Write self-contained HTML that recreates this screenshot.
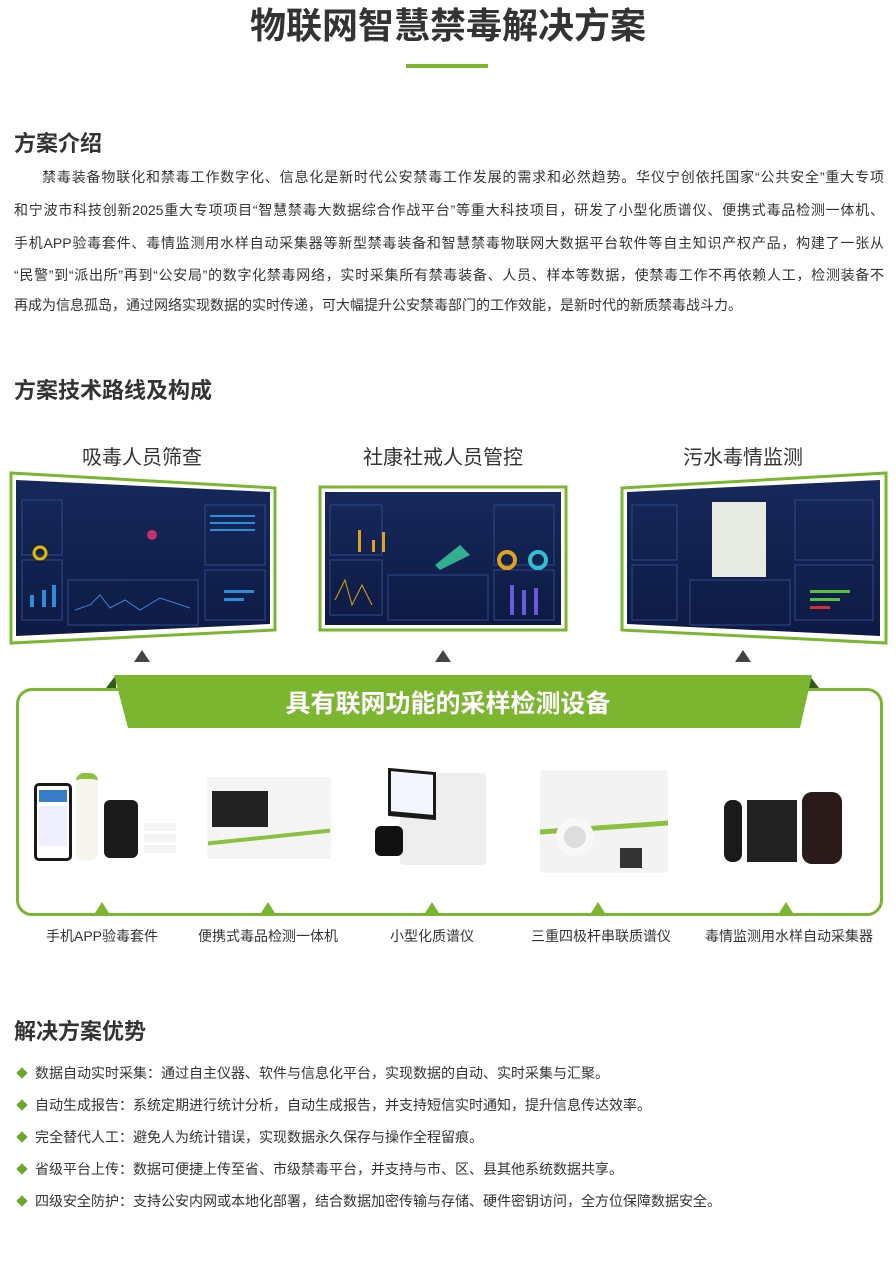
<!DOCTYPE html>
<html><head><meta charset="utf-8">
<style>
*{margin:0;padding:0;box-sizing:border-box}
body{width:896px;height:1275px;background:#fff;position:relative;overflow:hidden;font-family:"Liberation Sans","Noto Sans CJK SC",sans-serif;color:#333}
.a{position:absolute;white-space:nowrap}
.h{font-size:22px;font-weight:bold;color:#333;left:14px}
.p{position:absolute;left:14px;width:870px;font-size:14px;color:#333;text-align:justify;text-align-last:justify;white-space:nowrap;height:20px;line-height:20px}
.lab{font-size:20px;color:#333;transform:translateX(-50%)}
.pl{font-size:14px;color:#333;transform:translateX(-50%);top:926px}
.bl{left:18px;font-size:14px;color:#333}
.bl:before{content:"";display:inline-block;width:8px;height:8px;background:#6aaa2a;transform:rotate(45deg);margin-right:9px;vertical-align:1px}
.tri{position:absolute;width:0;height:0;border-left:8px solid transparent;border-right:8px solid transparent;border-bottom:12px solid #444}
.gt{position:absolute;width:0;height:0;border-left:7px solid transparent;border-right:7px solid transparent;border-bottom:11px solid #7cb530;top:902px}
</style></head><body>
<div class="a" style="left:0;width:896px;text-align:center;top:-3px;font-size:36px;font-weight:bold;color:#333">物联网智慧禁毒解决方案</div>
<div class="a" style="left:406px;top:64px;width:82px;height:4px;background:#7cb530"></div>

<div class="a h" style="top:126px">方案介绍</div>
<div class="p" style="top:167px;padding-left:28px">禁毒装备物联化和禁毒工作数字化、信息化是新时代公安禁毒工作发展的需求和必然趋势。华仪宁创依托国家“公共安全”重大专项</div>
<div class="p" style="top:200px">和宁波市科技创新2025重大专项项目“智慧禁毒大数据综合作战平台”等重大科技项目，研发了小型化质谱仪、便携式毒品检测一体机、</div>
<div class="p" style="top:233px">手机APP验毒套件、毒情监测用水样自动采集器等新型禁毒装备和智慧禁毒物联网大数据平台软件等自主知识产权产品，构建了一张从</div>
<div class="p" style="top:265px">“民警”到“派出所”再到“公安局”的数字化禁毒网络，实时采集所有禁毒装备、人员、样本等数据，使禁毒工作不再依赖人工，检测装备不</div>
<div class="p" style="top:295px;text-align-last:left">再成为信息孤岛，通过网络实现数据的实时传递，可大幅提升公安禁毒部门的工作效能，是新时代的新质禁毒战斗力。</div>

<div class="a h" style="top:373px">方案技术路线及构成</div>
<div class="a lab" style="left:142px;top:441px">吸毒人员筛查</div>
<div class="a lab" style="left:443px;top:441px">社康社戒人员管控</div>
<div class="a lab" style="left:743px;top:441px">污水毒情监测</div>

<svg class="a" style="left:0;top:460px" width="896" height="190">
<defs><linearGradient id="g" x1="0" y1="0" x2="0" y2="1"><stop offset="0" stop-color="#16285a"/><stop offset="1" stop-color="#0e1a44"/></linearGradient></defs>
<polygon points="11,13 275,28 275,170 11,183" fill="#fff" stroke="#7cb530" stroke-width="3"/>
<polygon points="16,20 270,32 270,164 16,176" fill="url(#g)"/>
<polygon points="320,27 566,27 566,170 320,170" fill="#fff" stroke="#7cb530" stroke-width="3"/>
<rect x="325" y="32" width="236" height="133" fill="url(#g)"/>
<polygon points="622,28 886,13 886,183 622,170" fill="#fff" stroke="#7cb530" stroke-width="3"/>
<polygon points="627,32 880,20 880,176 627,164" fill="url(#g)"/>
<g fill="none" stroke="#2c4a8a" stroke-width="1">
<rect x="22" y="40" width="40" height="55"/><rect x="22" y="100" width="40" height="60"/><rect x="68" y="120" width="130" height="45"/><rect x="205" y="45" width="60" height="60"/><rect x="205" y="110" width="60" height="50"/>
<rect x="330" y="45" width="52" height="50"/><rect x="330" y="100" width="52" height="55"/><rect x="388" y="115" width="100" height="45"/><rect x="494" y="45" width="60" height="60"/><rect x="494" y="110" width="60" height="50"/>
<rect x="632" y="45" width="45" height="55"/><rect x="632" y="105" width="45" height="55"/><rect x="690" y="120" width="100" height="45"/><rect x="795" y="40" width="78" height="60"/><rect x="795" y="105" width="78" height="55"/>
</g>
<rect x="712" y="42" width="54" height="75" fill="#e8ebe4"/>
<g fill="#2a8ed8"><rect x="30" y="135" width="4" height="12"/><rect x="42" y="130" width="4" height="17"/><rect x="52" y="125" width="4" height="22"/><rect x="224" y="130" width="30" height="3"/><rect x="224" y="138" width="20" height="3"/><rect x="210" y="55" width="45" height="2"/><rect x="210" y="62" width="45" height="2"/><rect x="210" y="69" width="45" height="2"/></g>
<circle cx="40" cy="93" r="6" fill="none" stroke="#e8b800" stroke-width="3"/>
<circle cx="152" cy="75" r="5" fill="#c4306e"/>
<polyline points="75,150 90,145 100,135 110,148 125,140 140,150 160,138 190,148" fill="none" stroke="#3a8ad8"/>
<g fill="#e0a020"><rect x="358" y="70" width="3" height="22"/><rect x="372" y="80" width="3" height="12"/><rect x="382" y="72" width="3" height="20"/></g>
<polyline points="335,140 345,120 352,145 362,125 372,145" fill="none" stroke="#e0a020"/>
<circle cx="507" cy="100" r="8" fill="none" stroke="#e0a020" stroke-width="4"/><circle cx="538" cy="100" r="8" fill="none" stroke="#30c0d0" stroke-width="4"/>
<g fill="#6a5ad8"><rect x="510" y="125" width="4" height="30"/><rect x="522" y="130" width="4" height="25"/><rect x="534" y="128" width="4" height="27"/></g>
<path d="M435,105 l25,-20 l10,10 l-30,15z" fill="#30b090"/>
<g fill="#58c040"><rect x="810" y="130" width="40" height="3"/><rect x="810" y="138" width="30" height="3"/></g>
<rect x="810" y="146" width="20" height="3" fill="#d03030"/>
</svg>

<div class="tri" style="left:134px;top:650px"></div>
<div class="tri" style="left:435px;top:650px"></div>
<div class="tri" style="left:735px;top:650px"></div>

<div class="a" style="left:16px;top:688px;width:867px;height:228px;border:3px solid #7cb530;border-radius:16px"></div>
<svg class="a" style="left:0;top:670px" width="896" height="62">
<polygon points="106,18 116,5 116,18" fill="#2f5a1a"/>
<polygon points="819,18 809,5 809,18" fill="#2f5a1a"/>
<polygon points="114,5 812,5 800,58 128,58" fill="#7cb530"/>
</svg>
<div class="a" style="left:0;width:896px;text-align:center;top:684px;font-size:25px;font-weight:bold;color:#fff">具有联网功能的采样检测设备</div>

<div class="a" style="left:34px;top:783px;width:38px;height:78px;background:#fff;border:3px solid #1a1a1a;border-radius:5px"><div style="margin:4px 2px;height:12px;background:#3a7cc8"></div><div style="margin:2px;height:40px;background:#eef"></div></div>
<div class="a" style="left:76px;top:773px;width:22px;height:88px;background:#f6f6ee;border-radius:8px;border-top:6px solid #8cc040"></div>
<div class="a" style="left:104px;top:800px;width:34px;height:58px;background:#1b1b1b;border-radius:6px"></div>
<div class="a" style="left:144px;top:823px;width:32px;height:32px;background:repeating-linear-gradient(#f4f4f4 0 8px,#fff 8px 11px)"></div>

<div class="a" style="left:207px;top:777px;width:124px;height:82px;background:#f4f4f4;border-radius:3px"></div>
<div class="a" style="left:212px;top:791px;width:56px;height:36px;background:#222"></div>
<div class="a" style="left:208px;top:835px;width:122px;height:4px;background:#8cc040;transform:skewY(-6deg)"></div>

<div class="a" style="left:400px;top:773px;width:86px;height:92px;background:#eee;border-radius:4px"></div>
<div class="a" style="left:388px;top:770px;width:48px;height:48px;background:#1a1a1a;transform:skewY(5deg)"><div style="margin:3px;height:40px;background:#f4f6ff"></div></div>
<div class="a" style="left:375px;top:826px;width:28px;height:30px;background:#111;border-radius:6px"></div>

<div class="a" style="left:540px;top:770px;width:128px;height:103px;background:#f3f3f3;border-radius:4px"></div>
<div class="a" style="left:540px;top:825px;width:128px;height:5px;background:#8cc040;transform:skewY(-4deg)"></div>
<div class="a" style="left:556px;top:818px;width:38px;height:38px;border-radius:50%;background:#ddd;border:8px solid #f8f8f8"></div>
<div class="a" style="left:620px;top:848px;width:22px;height:20px;background:#333"></div>

<div class="a" style="left:724px;top:800px;width:18px;height:62px;background:#1a1a1a;border-radius:8px"></div>
<div class="a" style="left:747px;top:800px;width:50px;height:62px;background:#222"></div>
<div class="a" style="left:802px;top:792px;width:40px;height:72px;background:#2a1a1a;border-radius:10px"></div>

<div class="gt" style="left:95px"></div><div class="gt" style="left:261px"></div><div class="gt" style="left:425px"></div><div class="gt" style="left:591px"></div><div class="gt" style="left:779px"></div>
<div class="a pl" style="left:102px">手机APP验毒套件</div>
<div class="a pl" style="left:268px">便携式毒品检测一体机</div>
<div class="a pl" style="left:432px">小型化质谱仪</div>
<div class="a pl" style="left:601px">三重四极杆串联质谱仪</div>
<div class="a pl" style="left:789px">毒情监测用水样自动采集器</div>

<div class="a h" style="top:1014px">解决方案优势</div>
<div class="a bl" style="top:1063px">数据自动实时采集：通过自主仪器、软件与信息化平台，实现数据的自动、实时采集与汇聚。</div>
<div class="a bl" style="top:1095px">自动生成报告：系统定期进行统计分析，自动生成报告，并支持短信实时通知，提升信息传达效率。</div>
<div class="a bl" style="top:1127px">完全替代人工：避免人为统计错误，实现数据永久保存与操作全程留痕。</div>
<div class="a bl" style="top:1159px">省级平台上传：数据可便捷上传至省、市级禁毒平台，并支持与市、区、县其他系统数据共享。</div>
<div class="a bl" style="top:1191px">四级安全防护：支持公安内网或本地化部署，结合数据加密传输与存储、硬件密钥访问，全方位保障数据安全。</div>
</body></html>
